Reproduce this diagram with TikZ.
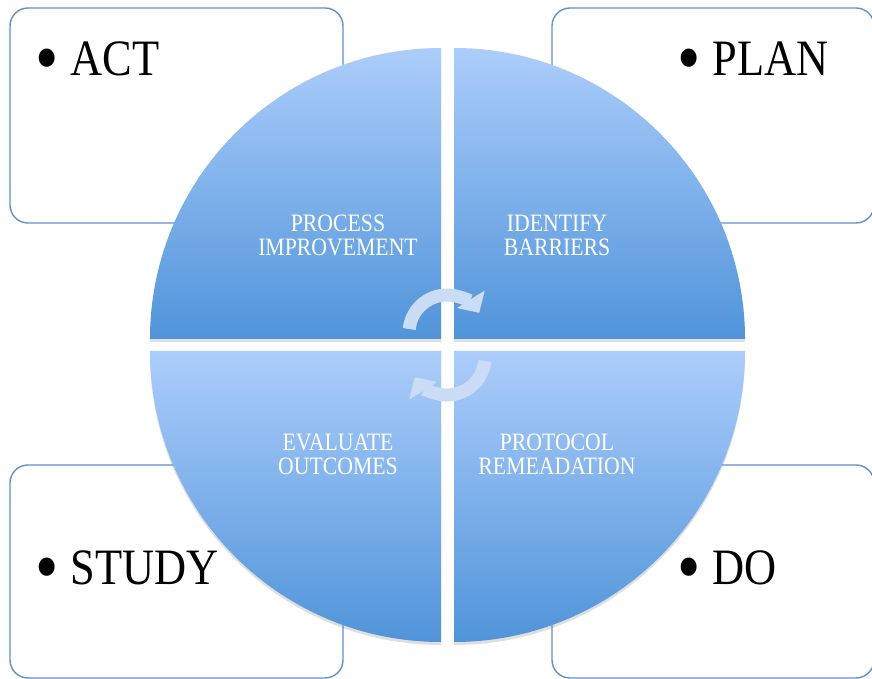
\documentclass[tikz,border=0pt]{standalone}
\usepackage{fontspec}
\setmainfont{Liberation Serif}[FakeStretch=0.87]
\usepackage{tikz}
\usetikzlibrary{arrows.meta}
\usetikzlibrary{shadows}

\definecolor{boxline}{RGB}{98,144,203}
\definecolor{quadtop}{RGB}{172,205,251}
\definecolor{quadbot}{RGB}{80,148,217}
\definecolor{turncol}{RGB}{203,220,246}

\newcommand{\bigdot}{\raisebox{-0.15em}{\scalebox{1.5}{•}}\hspace{12pt}}

\tikzset{
    phasebox/.style={draw=boxline, line width=1.4pt, rounded corners=18pt, fill=white},
    quadrant/.style={top color=quadtop, bottom color=quadbot,
        drop shadow={shadow xshift=0pt, shadow yshift=-3pt, opacity=0.25}},
    quadtext/.style={text=white, align=center, inner sep=0pt, font=\fontsize{25}{24}\selectfont},
    phasetext/.style={anchor=base west, inner sep=0pt, font=\fontsize{51}{60}\selectfont},
    turn/.style={draw=turncol, line width=13pt, -{Triangle[width=32pt,length=16pt]}}
}

\begin{document}
\begin{tikzpicture}[x=1pt, y=1pt]
    \useasboundingbox (0,0) rectangle (872,679);
    \clip (0,0) rectangle (872,679);

    % corner boxes
    \draw[phasebox] (10,456) rectangle (343,671);
    \draw[phasebox] (552,456) rectangle (874,671);
    \draw[phasebox] (10,1) rectangle (343,214);
    \draw[phasebox] (552,1) rectangle (874,214);

    \node[phasetext] (act) at (35,603) {\bigdot ACT};
    \node[phasetext] (plan) at (677,603) {\bigdot PLAN};
    \node[phasetext] (study) at (35,94) {\bigdot STUDY};
    \node[phasetext] (do) at (677,94) {\bigdot DO};

    % the four quarters of the wheel
    \path[quadrant] (441,340) -- (150,340) arc[start angle=180, end angle=90, radius=291pt] -- cycle;
    \path[quadrant] (454,340) -- (454,631) arc[start angle=90, end angle=0, radius=291pt] -- cycle;
    \path[quadrant] (441,328) -- (441,37) arc[start angle=270, end angle=180, radius=291pt] -- cycle;
    \path[quadrant] (454,328) -- (745,328) arc[start angle=0, end angle=-90, radius=291pt] -- cycle;

    \node[quadtext] (improve) at (338,444) {PROCESS\\IMPROVEMENT};
    \node[quadtext] (barriers) at (557,444) {IDENTIFY\\BARRIERS};
    \node[quadtext] (evaluate) at (338,225) {EVALUATE\\OUTCOMES};
    \node[quadtext] (protocol) at (557,225) {PROTOCOL\\REMEADATION};

    % turning arrows in the middle
    \coordinate (hubtop) at (447,346);
    \coordinate (hubbot) at (447,322);
    \draw[turn] ([shift={(174:38pt)}]hubtop) arc[start angle=174, end angle=32, radius=38pt];
    \draw[turn] ([shift={(-6:38pt)}]hubbot) arc[start angle=-6, end angle=-148, radius=38pt];
\end{tikzpicture}
\end{document}
